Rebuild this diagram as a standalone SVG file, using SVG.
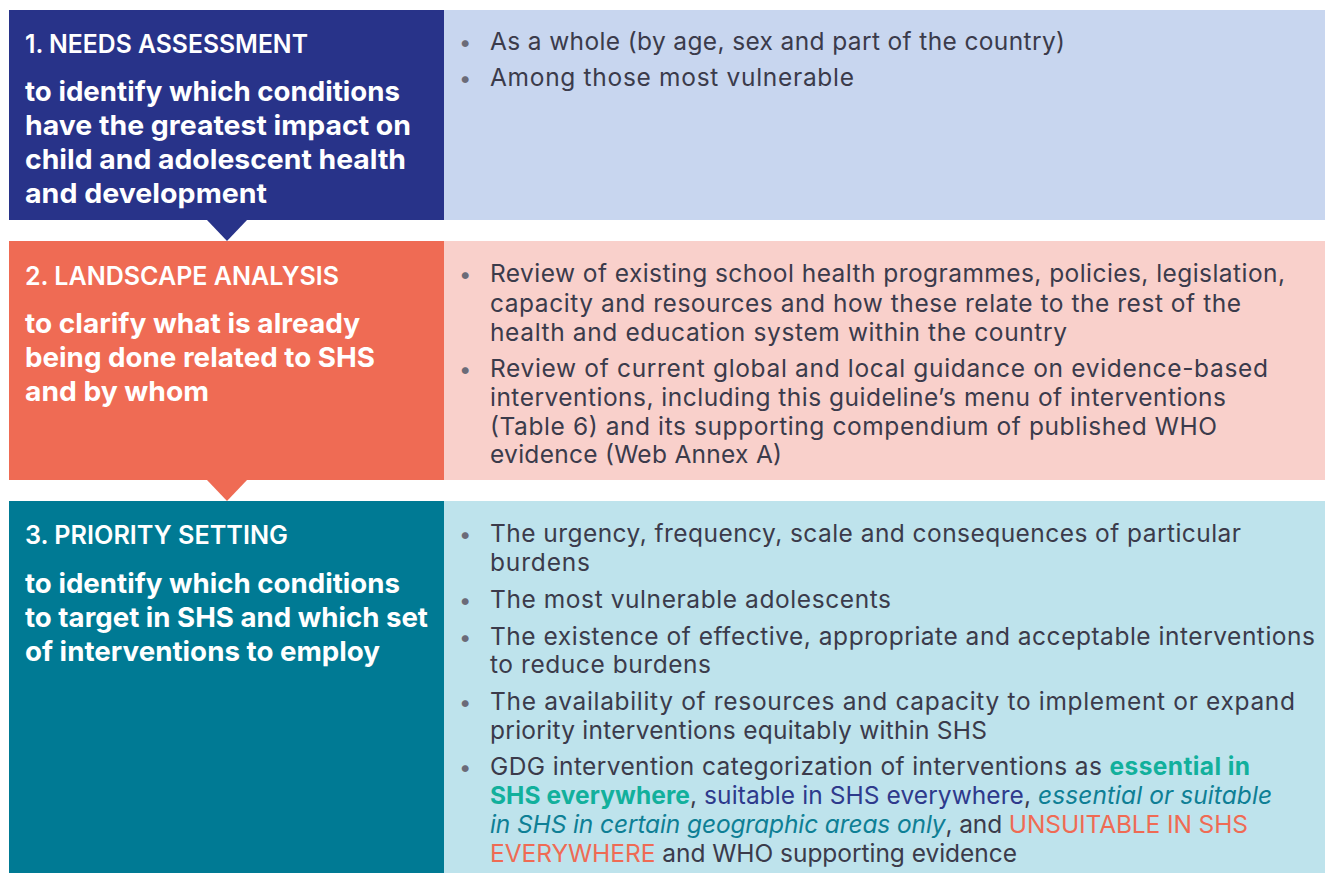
<svg xmlns="http://www.w3.org/2000/svg" width="1325" height="873" viewBox="0 0 1325 873">
<style>
.hd{font-family:Inter,"Open Sans",sans-serif;font-weight:600;font-size:25px;fill:#fff}
.bd{font-family:Inter,"Open Sans",sans-serif;font-weight:700;font-size:27.5px;fill:#fff}
.tx{font-family:Inter,"Open Sans",sans-serif;font-weight:400;font-size:24.5px;fill:#3b3b4b}
.bu{font-family:Inter,"Open Sans",sans-serif;font-size:22px;fill:#6b6b78}
.ess{font-weight:700;fill:#12b09c}
.suit{fill:#2e3a8c}
.geo{font-style:italic;fill:#0e7f95}
.uns{fill:#ef6b54}
</style>
<rect width="1325" height="873" fill="#fff"/>
<g id="stage1">
<rect x="444" y="10" width="881" height="210" fill="#c8d6ef"/>
<rect x="9" y="10" width="435" height="210" fill="#283389"/>
<text class="hd" x="25" y="53" textLength="283" lengthAdjust="spacingAndGlyphs">1. NEEDS ASSESSMENT</text>
<text class="bd" x="25" y="101" textLength="375" lengthAdjust="spacingAndGlyphs">to identify which conditions</text>
<text class="bd" x="25" y="135" textLength="386" lengthAdjust="spacingAndGlyphs">have the greatest impact on</text>
<text class="bd" x="25" y="169" textLength="381" lengthAdjust="spacingAndGlyphs">child and adolescent health</text>
<text class="bd" x="25" y="203" textLength="242" lengthAdjust="spacingAndGlyphs">and development</text>
<text class="bu" x="459" y="50">•</text>
<text class="tx" x="490" y="50" textLength="575">As a whole (by age, sex and part of the country)</text>
<text class="bu" x="459" y="86">•</text>
<text class="tx" x="490" y="86" textLength="364">Among those most vulnerable</text>
</g>
<g id="stage2">
<rect x="444" y="241" width="881" height="239" fill="#f9d0cb"/>
<rect x="9" y="241" width="435" height="239" fill="#ef6b54"/>
<text class="hd" x="25" y="285" textLength="314" lengthAdjust="spacingAndGlyphs">2. LANDSCAPE ANALYSIS</text>
<text class="bd" x="25" y="333" textLength="335" lengthAdjust="spacingAndGlyphs">to clarify what is already</text>
<text class="bd" x="25" y="367" textLength="350" lengthAdjust="spacingAndGlyphs">being done related to SHS</text>
<text class="bd" x="25" y="401" textLength="184" lengthAdjust="spacingAndGlyphs">and by whom</text>
<text class="bu" x="459" y="282">•</text>
<text class="tx" x="490" y="282" textLength="795">Review of existing school health programmes, policies, legislation,</text>
<text class="tx" x="490" y="312" textLength="751">capacity and resources and how these relate to the rest of the</text>
<text class="tx" x="490" y="341" textLength="577">health and education system within the country</text>
<text class="bu" x="459" y="377">•</text>
<text class="tx" x="490" y="377" textLength="778">Review of current global and local guidance on evidence-based</text>
<text class="tx" x="490" y="406" textLength="736">interventions, including this guideline’s menu of interventions</text>
<text class="tx" x="490" y="435" textLength="727">(Table 6) and its supporting compendium of published WHO</text>
<text class="tx" x="490" y="463" textLength="292">evidence (Web Annex A)</text>
</g>
<g id="stage3">
<rect x="444" y="501" width="881" height="372" fill="#bee3ec"/>
<rect x="9" y="501" width="435" height="372" fill="#007a94"/>
<text class="hd" x="25" y="544" textLength="263" lengthAdjust="spacingAndGlyphs">3. PRIORITY SETTING</text>
<text class="bd" x="25" y="593" textLength="375" lengthAdjust="spacingAndGlyphs">to identify which conditions</text>
<text class="bd" x="25" y="627" textLength="403" lengthAdjust="spacingAndGlyphs">to target in SHS and which set</text>
<text class="bd" x="25" y="661" textLength="355" lengthAdjust="spacingAndGlyphs">of interventions to employ</text>
<text class="bu" x="459" y="542">•</text>
<text class="tx" x="490" y="542" textLength="751">The urgency, frequency, scale and consequences of particular</text>
<text class="tx" x="490" y="571" textLength="100">burdens</text>
<text class="bu" x="459" y="608">•</text>
<text class="tx" x="490" y="608" textLength="401">The most vulnerable adolescents</text>
<text class="bu" x="459" y="645">•</text>
<text class="tx" x="490" y="645" textLength="825">The existence of effective, appropriate and acceptable interventions</text>
<text class="tx" x="490" y="673" textLength="221">to reduce burdens</text>
<text class="bu" x="459" y="710">•</text>
<text class="tx" x="490" y="710" textLength="805">The availability of resources and capacity to implement or expand</text>
<text class="tx" x="490" y="739" textLength="497">priority interventions equitably within SHS</text>
<text class="bu" x="459" y="775">•</text>
<text class="tx" x="490" y="775" textLength="760">GDG intervention categorization of interventions as <tspan class="ess">essential in</tspan></text>
<text class="tx" x="490" y="804" textLength="782"><tspan class="ess">SHS everywhere</tspan>, <tspan class="suit">suitable in SHS everywhere</tspan>, <tspan class="geo">essential or suitable</tspan></text>
<text class="tx" x="490" y="833" textLength="758"><tspan class="geo">in SHS in certain geographic areas only</tspan>, and <tspan class="uns">UNSUITABLE IN SHS</tspan></text>
<text class="tx" x="490" y="862" textLength="527"><tspan class="uns">EVERYWHERE</tspan> and WHO supporting evidence</text>
</g>
<g id="connectors">
<polygon points="207,220 247,220 227,241" fill="#283389"/>
<polygon points="207,480 247,480 227,501" fill="#ef6b54"/>
</g>
</svg>
